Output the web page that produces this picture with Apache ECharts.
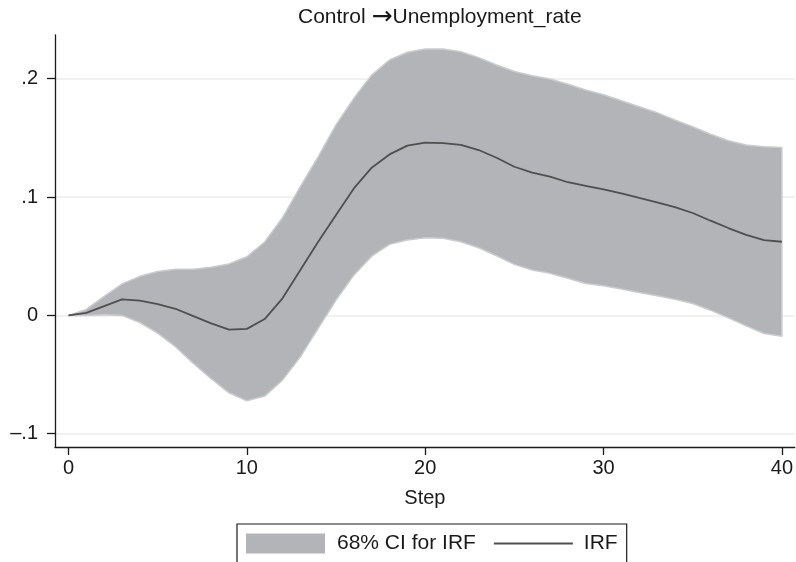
<!DOCTYPE html>
<html>
<head>
<meta charset="utf-8">
<script src="https://cdn.jsdelivr.net/npm/echarts@6/dist/echarts.min.js"></script>
<style>
  html, body { margin: 0; padding: 0; background: #fff; }
  #chart { width: 796px; height: 562px; }
</style>
</head>
<body>
<div id="chart"></div>
<script>
// Impulse response of Unemployment_rate to a Control shock, with 68% band
const steps = [0,1,2,3,4,5,6,7,8,9,10,11,12,13,14,15,16,17,18,19,20,
               21,22,23,24,25,26,27,28,29,30,31,32,33,34,35,36,37,38,39,40];

const irf = [0, 0.0022, 0.0079, 0.0135, 0.0124, 0.0095, 0.0056, -0.0006, -0.0068, -0.0120, -0.0114,
             -0.0031, 0.0144, 0.0383, 0.0622, 0.0848, 0.1073, 0.1248, 0.1360, 0.1434, 0.1459,
             0.1456, 0.1440, 0.1397, 0.1332, 0.1256, 0.1206, 0.1172, 0.1125, 0.1095, 0.1065,
             0.1030, 0.0992, 0.0955, 0.0915, 0.0865, 0.0800, 0.0738, 0.0680, 0.0636, 0.0622];

const ciUpper = [0, 0.0050, 0.0160, 0.0265, 0.0330, 0.0370, 0.0390, 0.0390, 0.0406, 0.0435, 0.0495,
                 0.0620, 0.0825, 0.1087, 0.1340, 0.1609, 0.1834, 0.2030, 0.2158, 0.2223, 0.2251,
                 0.2251, 0.2228, 0.2178, 0.2116, 0.2060, 0.2025, 0.1997, 0.1953, 0.1905, 0.1864,
                 0.1814, 0.1763, 0.1713, 0.1651, 0.1594, 0.1530, 0.1475, 0.1440, 0.1425, 0.1418];

const ciLower = [0, 0, 0.0005, 0, -0.0060, -0.0150, -0.0265, -0.0406, -0.0535, -0.0654, -0.0722,
                 -0.0682, -0.0547, -0.0350, -0.0110, 0.0129, 0.0340, 0.0500, 0.0600, 0.0637, 0.0656,
                 0.0651, 0.0622, 0.0571, 0.0504, 0.0431, 0.0383, 0.0355, 0.0313, 0.0270, 0.0250,
                 0.0222, 0.0194, 0.0165, 0.0137, 0.0101, 0.0044, -0.0021, -0.0089, -0.0153, -0.0176];

const xTickValues = [0, 10, 20, 30, 40];
const yTickValues = [-0.1, 0, 0.1, 0.2];
const yTickLabels = ['\u2013.1', '0', '.1', '.2'];

const titleFrom = 'Control';
const titleTo = 'Unemployment_rate';
const xAxisTitle = 'Step';
const bandName = '68% CI for IRF';
const lineName = 'IRF';

const FONT = 'Liberation Sans, Arial, Helvetica, sans-serif';
const bandFill = '#b3b4b8';
const bandEdge = '#cacbce';
const lineColor = '#4f4f4f';
const ink = '#1a1a1a';

const bandRows = steps.map((s, i) => [s, ciLower[i], ciUpper[i]]);
const irfPts = steps.map((s, i) => [s, irf[i]]);

const chart = echarts.init(document.getElementById('chart'), null, { renderer: 'canvas' });

chart.setOption({
  animation: false,
  backgroundColor: '#ffffff',
  textStyle: { fontFamily: FONT },
  title: {
    text: '{a|' + titleFrom + ' }{b|\u2192}{a|' + titleTo + '}',
    left: 298,
    top: 5,
    padding: 0,
    textStyle: {
      fontSize: 21,
      fontWeight: 'normal',
      color: ink,
      rich: {
        a: { fontFamily: FONT, fontSize: 21, fontWeight: 'normal', color: ink },
        b: { fontFamily: 'DejaVu Sans', fontSize: 25, fontWeight: 'normal', color: ink }
      }
    }
  },
  grid: { left: 55, right: 1, top: 35, bottom: 115, containLabel: false },
  xAxis: {
    type: 'value',
    min: -0.757,
    max: 40.72,
    name: xAxisTitle,
    nameLocation: 'middle',
    nameGap: 41,
    nameTextStyle: { fontFamily: FONT, fontSize: 20, color: ink },
    axisLine: { show: true, onZero: false, lineStyle: { color: ink, width: 1.3 } },
    axisTick: { show: true, length: 8, customValues: xTickValues, lineStyle: { color: ink, width: 1.3 } },
    axisLabel: { customValues: xTickValues, margin: 11, fontFamily: FONT, fontSize: 20, color: ink },
    splitLine: { show: false }
  },
  yAxis: {
    type: 'value',
    min: -0.1112,
    max: 0.2369,
    axisLine: { show: true, onZero: false, lineStyle: { color: ink, width: 1.3 } },
    axisTick: { show: true, length: 8, customValues: yTickValues, lineStyle: { color: ink, width: 1.3 } },
    axisLabel: {
      customValues: yTickValues,
      margin: 17,
      fontFamily: FONT, fontSize: 20, color: ink,
      formatter: function (v) {
        let best = 0;
        yTickValues.forEach((t, i) => { if (Math.abs(t - v) < Math.abs(yTickValues[best] - v)) best = i; });
        return yTickLabels[best];
      }
    },
    splitLine: { show: true, lineStyle: { color: '#ececec', width: 1.5 } }
  },
  legend: {
    left: 237,
    top: 524,
    orient: 'horizontal',
    padding: [9, 9, 30, 9],
    itemGap: 18,
    itemWidth: 79,
    itemHeight: 20,
    borderColor: ink,
    borderWidth: 1.2,
    borderRadius: 0,
    textStyle: { fontFamily: FONT, fontSize: 21, color: ink },
    data: [
      { name: bandName, icon: 'rect', itemStyle: { color: bandFill, borderWidth: 0 }, textStyle: { padding: [0, 0, 0, 7] } },
      { name: lineName, icon: 'path://M0,0 M0,20 M0,9.0 L79,9.0 L79,11.0 L0,11.0 Z',
        itemStyle: { color: lineColor, borderWidth: 0 }, textStyle: { padding: [0, 0, 0, 6] } }
    ]
  },
  series: [
    {
      name: bandName,
      type: 'custom',
      data: bandRows,
      encode: { x: 0, y: [1, 2] },
      silent: true,
      z: 2,
      itemStyle: { color: bandFill },
      renderItem: function (params, api) {
        if (params.dataIndex !== 0) return null;
        const pts = [];
        for (let i = 0; i < bandRows.length; i++) pts.push(api.coord([bandRows[i][0], bandRows[i][2]]));
        for (let i = bandRows.length - 1; i >= 0; i--) pts.push(api.coord([bandRows[i][0], bandRows[i][1]]));
        return {
          type: 'polygon',
          shape: { points: pts },
          style: { fill: bandFill, stroke: bandEdge, lineWidth: 1.5, lineJoin: 'round' }
        };
      }
    },
    {
      name: lineName,
      type: 'line',
      data: irfPts,
      symbol: 'none',
      showSymbol: false,
      z: 3,
      color: lineColor,
      lineStyle: { color: lineColor, width: 1.8 }
    }
  ]
});
</script>
</body>
</html>
